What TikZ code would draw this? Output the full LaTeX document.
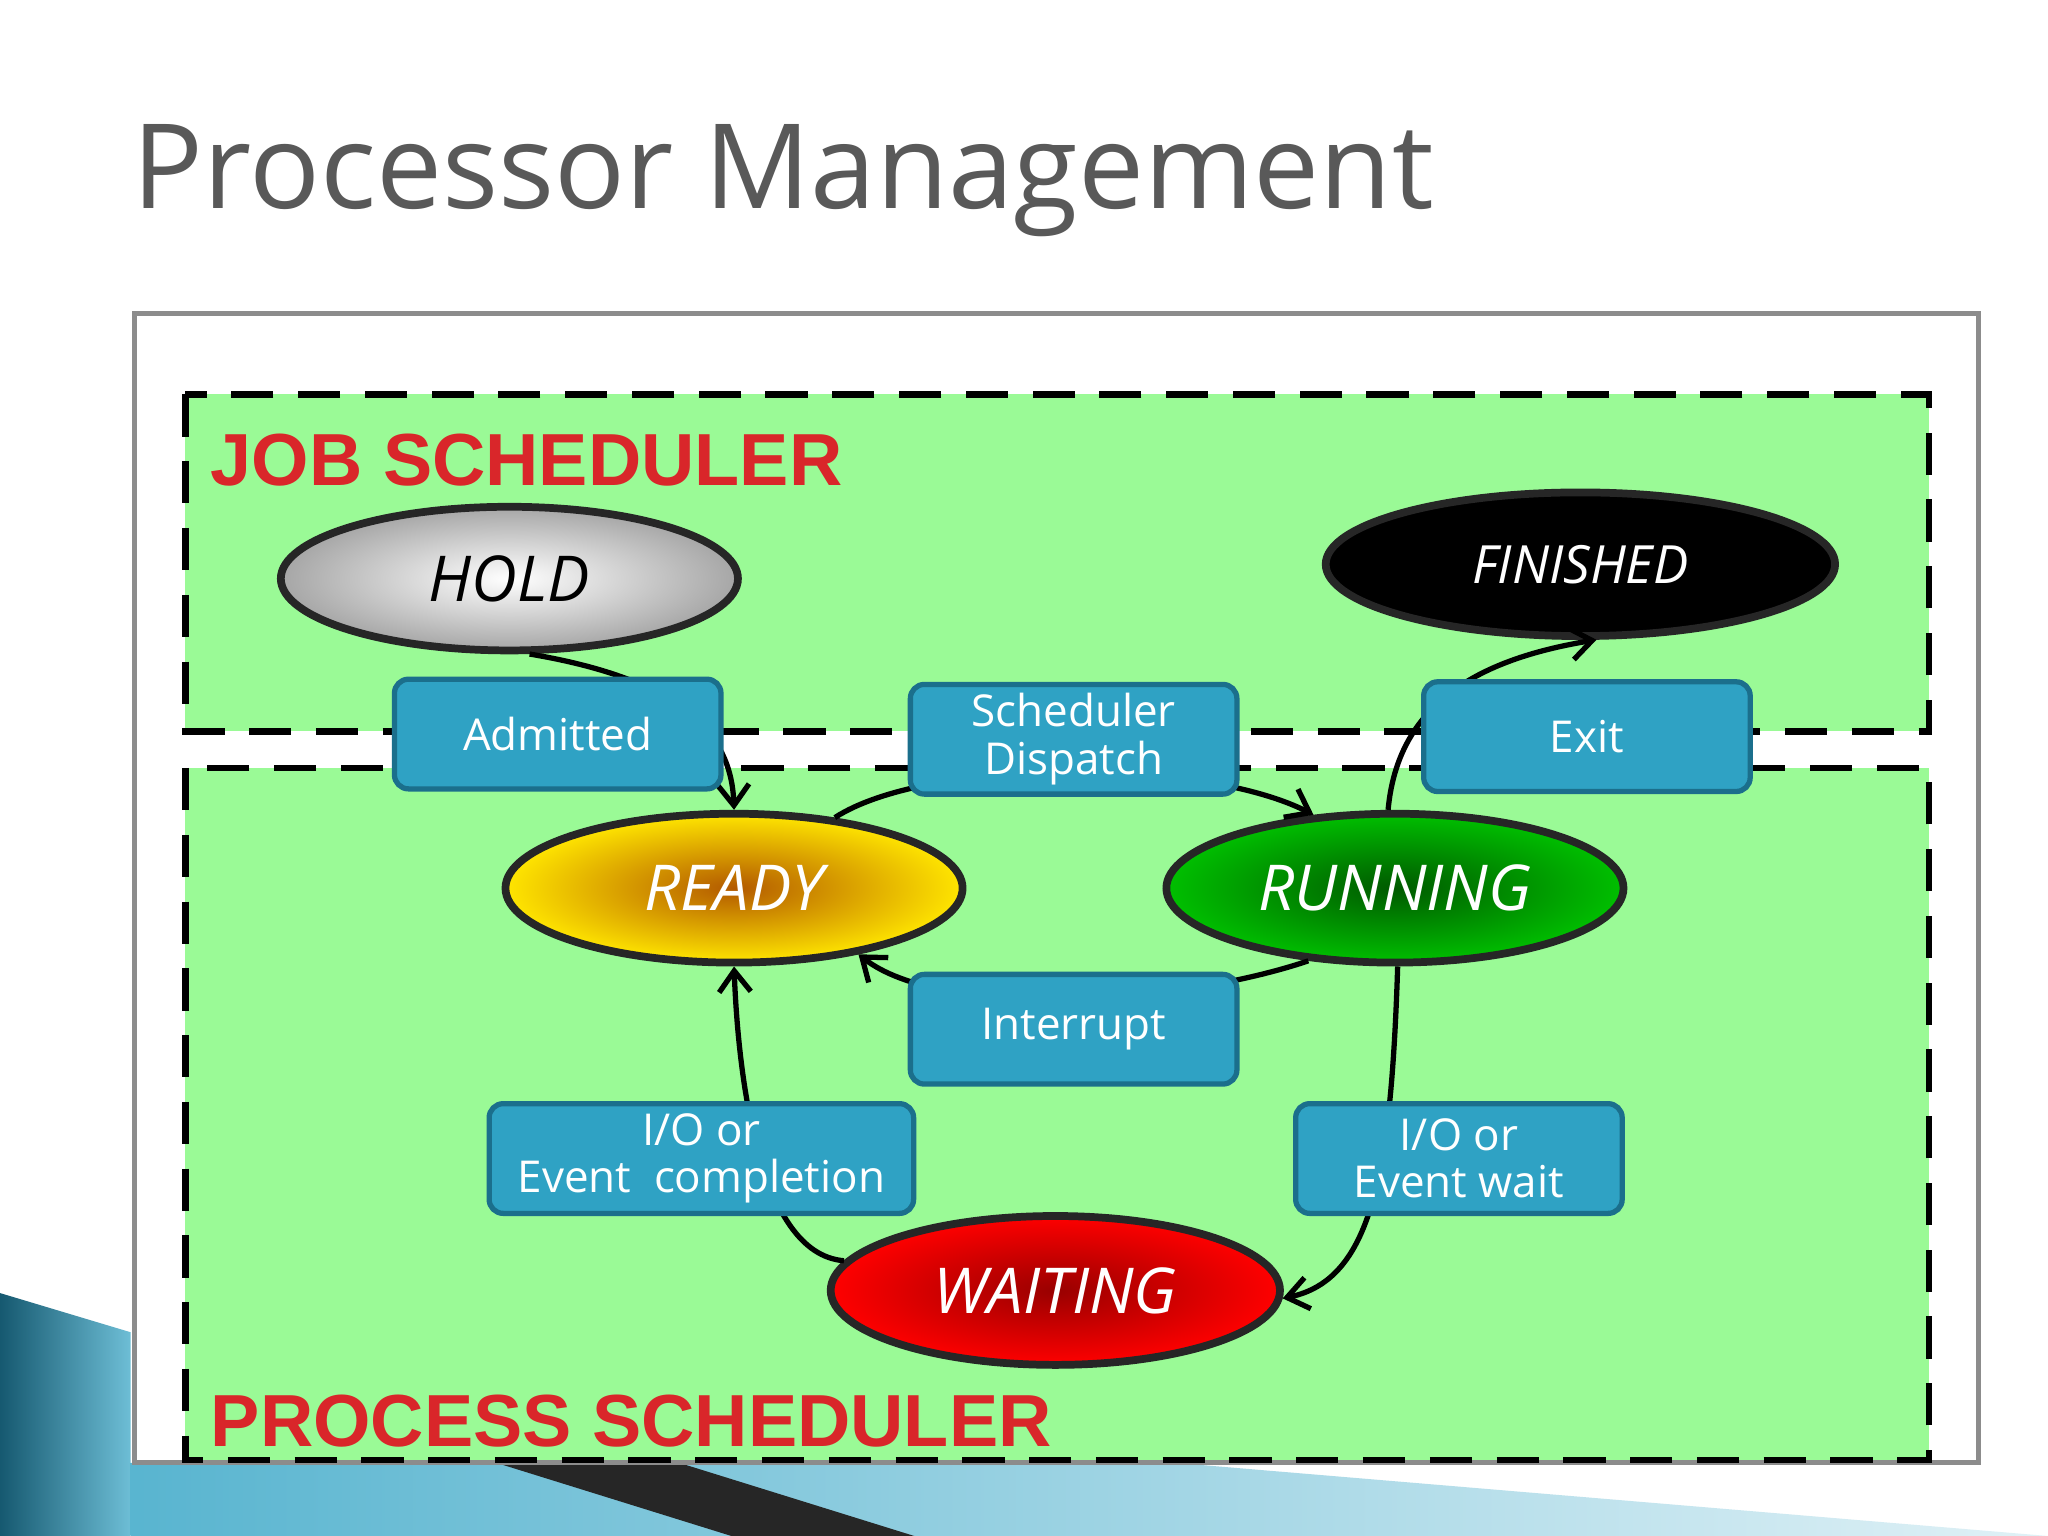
\documentclass[tikz,border=0pt]{standalone}
\usepackage{fontspec}
\setmainfont{Open Sans}
\newfontfamily\lib{Liberation Sans}
\usetikzlibrary{shapes.geometric,arrows.meta}
\definecolor{bgreen}{HTML}{9AFA96}
\definecolor{boxb}{HTML}{2FA2C4}
\definecolor{boxd}{HTML}{1B6F8C}
\definecolor{jred}{HTML}{D9262A}
\begin{document}
\begin{tikzpicture}[x=0.013061cm,y=-0.013061cm,
  st/.style={ellipse,draw=black!85,line width=2.2pt,font=\itshape\fontsize{18}{20}\selectfont},
  bx/.style={draw=boxd,fill=boxb,line width=1.5pt,rounded corners=4pt,text=white,align=center,
     minimum width=250*0.013061cm,minimum height=84*0.013061cm,inner sep=1pt,
     font=\fontsize{12.5}{13.5}\selectfont},
  arr/.style={line width=1.5pt,-{Straight Barb[length=6pt,width=9pt,line width=1.5pt]}},
  lab/.style={anchor=west,text=jred,font=\lib\bfseries\fontsize{21}{22}\selectfont},
  dsh/.style={draw=black,line width=1.8pt,dash pattern=on 12pt off 7pt,fill=bgreen}]
\useasboundingbox (0,0) rectangle (1568,1176);
\fill[white] (0,0) rectangle (1568,1176);
% bottom-left decoration
\shade[left color=boxd!80!black,right color=boxb!70] (0,990) -- (100,1020) -- (100,1176) -- (0,1176) -- cycle;
\shade[left color=boxb!80,right color=boxb!15] (100,1120) -- (900,1120) -- (1568,1176) -- (100,1176) -- cycle;
\fill[black!85] (380,1120) -- (520,1120) -- (700,1176) -- (560,1176) -- cycle;
\node[anchor=west,text=black!65,font=\fontsize{33.5}{36}\selectfont] (title) at (92,138) {Processor Management};
\draw[draw=black!45,line width=1.5pt,fill=white] (103,240) rectangle (1515,1120);
\draw[dsh] (142,302) rectangle (1477,560);
\draw[dsh] (142,588) rectangle (1477,1118);
\node[lab] (js) at (152,352) {JOB SCHEDULER};
\node[lab] (ps) at (152,1088) {PROCESS SCHEDULER};
% states
\node[st,minimum width=350*0.013061cm,minimum height=110*0.013061cm,inner color=white,outer color=black!35] (hold) at (390,443) {HOLD};
\node[st,minimum width=390*0.013061cm,minimum height=110*0.013061cm,fill=black,text=white,font=\itshape\fontsize{15}{16}\selectfont] (fin) at (1210,432) {FINISHED};
\node[st,minimum width=350*0.013061cm,minimum height=114*0.013061cm,inner color=orange!70!black,outer color=yellow!80!orange,text=white] (ready) at (562,680) {READY};
\node[st,minimum width=350*0.013061cm,minimum height=114*0.013061cm,inner color=green!35!black,outer color=green!75!black,text=white] (run) at (1068,680) {RUNNING};
\node[st,minimum width=344*0.013061cm,minimum height=114*0.013061cm,inner color=red!60!black,outer color=red,text=white] (wait) at (808,988) {WAITING};
% arrows
\draw[arr] (hold.-75) .. controls (520,520) and (560,560) .. (ready.north);
\draw[arr] (ready.35) .. controls (710,580) and (920,580) .. (run.138);
\draw[arr] (run.-140) .. controls (900,770) and (720,780) .. (ready.-28);
\draw[arr] (run.-88) .. controls (1065,900) and (1050,980) .. (wait.-2);
\draw[arr] (wait.172) .. controls (580,960) and (565,820) .. (ready.south);
\draw[arr] (run.95) .. controls (1070,540) and (1130,505) .. (fin.-78);
% boxes
\node[bx] (adm) at (427,562) {Admitted};
\node[bx] (sd) at (822,566) {Scheduler\\Dispatch};
\node[bx] (exit) at (1215,564) {Exit};
\node[bx] (intr) at (822,788) {Interrupt};
\node[bx,minimum width=325*0.013061cm] (ioc) at (537,887) {I/O or\\Event\ \ completion};
\node[bx] (iow) at (1117,887) {I/O or\\Event wait};
\end{tikzpicture}
\end{document}
